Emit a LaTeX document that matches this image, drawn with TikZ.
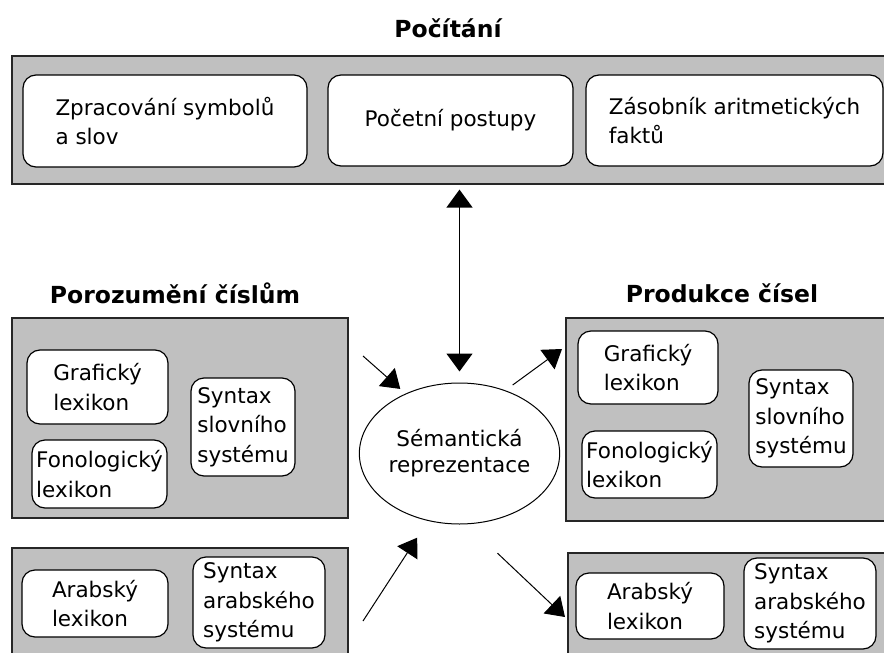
\documentclass[tikz,border=0pt]{standalone}
\usepackage{fontspec}
\setmainfont{DejaVu Sans}
\usetikzlibrary{arrows.meta,shapes.geometric}
\definecolor{panelgray}{RGB}{192,192,192}

\begin{document}
\begin{tikzpicture}[x=1pt, y=-1pt,
    panel/.style={draw=black!85, line width=1.2pt, fill=panelgray, inner sep=0pt},
    box/.style={draw, line width=1.2pt, fill=white, rounded corners=13pt, align=left, inner sep=2pt, font=\fontsize{21.5}{29.5}\selectfont},
    title/.style={font=\fontsize{23.5}{28}\selectfont\bfseries},
    arr/.style={-{Triangle[length=18pt,width=24pt]}, line width=1pt},
    dblarr/.style={{Triangle[length=18pt,width=26pt]}-{Triangle[length=18pt,width=26pt]}, line width=1.5pt}]
	\useasboundingbox (0,0) rectangle (884,653);
	\clip (0,0) rectangle (884,653);

	% Headings
	\node[title] (pocitaniT) at (448,28) {Počítání};
	\node[title] (porozumeniT) at (175,293) {Porozumění číslům};
	\node[title] (produkceT) at (722,293) {Produkce čísel};

	% Grey panels
	\node[panel, minimum width=880pt, minimum height=128pt] (pocitani) at (452,120) {};
	\node[panel, minimum width=336pt, minimum height=200pt] (porozumeni) at (180,418) {};
	\node[panel, minimum width=326pt, minimum height=203pt] (produkce) at (729,419.5) {};
	\node[panel, minimum width=336pt, minimum height=115pt] (arabL) at (180,605.5) {};
	\node[panel, minimum width=324pt, minimum height=110pt] (arabR) at (730,608) {};

	% Boxes in Počítání
	\node[box, minimum width=284pt, minimum height=92pt] (zpracovani) at (165,121) {Zpracování symbolů\\a slov};
	\node[box, minimum width=245pt, minimum height=91pt] (postupy) at (450.5,120.5) {Početní postupy};
	\node[box, minimum width=297pt, minimum height=91pt] (zasobnik) at (734.5,120.5) {Zásobník aritmetických\\faktů};

	% Boxes in Porozumění číslům
	\node[box, minimum width=141pt, minimum height=74pt] (grafickyL) at (97.5,387) {Grafický\\lexikon};
	\node[box, minimum width=135pt, minimum height=68pt] (fonologickyL) at (99.5,474) {Fonologický\\lexikon};
	\node[box, minimum width=104pt, minimum height=98pt] (syntaxL) at (243,427) {Syntax\\slovního\\systému};

	% Boxes in Produkce čísel
	\node[box, minimum width=140pt, minimum height=73pt] (grafickyR) at (648,367.5) {Grafický\\lexikon};
	\node[box, minimum width=135pt, minimum height=67pt] (fonologickyR) at (649.5,464.5) {Fonologický\\lexikon};
	\node[box, minimum width=104pt, minimum height=97pt] (syntaxR) at (801,418.5) {Syntax\\slovního\\systému};

	% Arabic boxes
	\node[box, minimum width=146pt, minimum height=67pt] (arabskyL) at (95,603.5) {Arabský\\lexikon};
	\node[box, minimum width=132pt, minimum height=91pt] (arabSyntaxL) at (259,602.5) {Syntax\\arabského\\systému};
	\node[box, minimum width=148pt, minimum height=66pt] (arabskyR) at (650,606) {Arabský\\lexikon};
	\node[box, minimum width=132pt, minimum height=91pt] (arabSyntaxR) at (810,603.5) {Syntax\\arabského\\systému};

	% Semantic representation
	\node[ellipse, draw, line width=1pt, fill=white, minimum width=179pt, minimum height=141pt, inner sep=0pt, align=center, font=\fontsize{21.5}{26}\selectfont] (sem) at (459.5,453.5) {Sémantická\\reprezentace};

	% Free ends of the arrows
	\coordinate (vstupG) at (363,356);
	\coordinate (vystupG) at (562,349);
	\coordinate (vstupA) at (363,621);
	\coordinate (vystupA) at (565,617);

	% Arrows
	\draw[dblarr, shorten <=5pt, shorten >=11pt] (sem.north |- pocitani.south) -- (sem.north);
	\draw[arr, shorten >=7pt] (vstupG) -- (sem.132);
	\draw[arr, shorten <=9pt] (sem.54) -- (vystupG);
	\draw[arr, shorten >=20pt] (vstupA) -- (sem.-115);
	\draw[arr, shorten <=42pt] (sem.-84) -- (vystupA);
\end{tikzpicture}
\end{document}
